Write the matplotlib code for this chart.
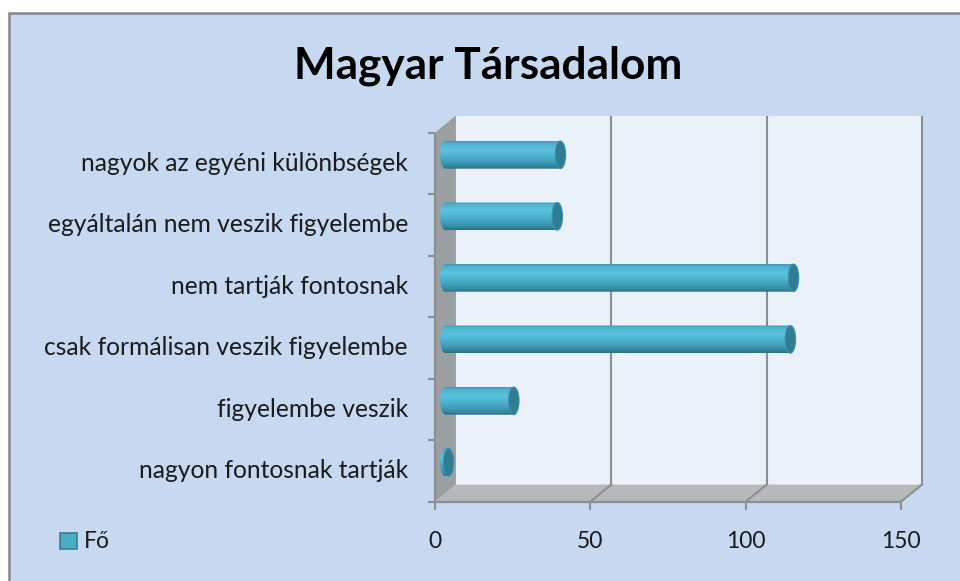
import numpy as np
import matplotlib
matplotlib.use('Agg')
import matplotlib.pyplot as plt
from matplotlib.patches import Polygon, Ellipse, Rectangle
from matplotlib.colors import LinearSegmentedColormap

# ---------------- data ----------------
title = 'Magyar Társadalom'
categories = ['nagyon fontosnak tartják',
              'figyelembe veszik',
              'csak formálisan veszik figyelembe',
              'nem tartják fontosnak',
              'egyáltalán nem veszik figyelembe',
              'nagyok az egyéni különbségek']
values = [1, 22, 111, 112, 36, 37]
xtick_values = [0, 50, 100, 150]
series_name = 'Fő'

# ---------------- figure ----------------
W, H = 960, 581
plt.rcParams['font.family'] = ['Lato', 'DejaVu Sans']
fig = plt.figure(figsize=(W / 100, H / 100), dpi=100, facecolor='white')

bg = Rectangle((9 / W, -0.02), 1.05, (H - 13) / H + 0.02, transform=fig.transFigure,
               facecolor='#C6D9F0', edgecolor='#878787', lw=1.8, zorder=-5)
fig.add_artist(bg)

# axes placed so that data coordinates map linearly onto the plot region
PXU = 3.108      # pixels per value unit
X0 = 445.4       # pixel of value 0 (mid depth plane)
PXC = 61.5       # pixels per category
Y0 = 493.1       # pixel of category edge -0.5 (mid depth plane)
ax_l, ax_r, ax_t, ax_b = 420, 945, 100, 515
ax = fig.add_axes([ax_l / W, (H - ax_b) / H, (ax_r - ax_l) / W, (ax_b - ax_t) / H])
ax.set_facecolor('none')
ax.axis('off')
xlim = ((ax_l - X0) / PXU, (ax_r - X0) / PXU)
ylim = ((Y0 - ax_b) / PXC - 0.5, (Y0 - ax_t) / PXC - 0.5)

dxh = 10.5 / PXU   # half depth offset, value units
dyh = 8.5 / PXC    # half depth offset, category units
vmax = xtick_values[-1]
n = len(categories)
ybot, ytop = -0.5, n - 0.5

grid_c = '#8E8E8E'
# back wall
ax.add_patch(Rectangle((dxh, ybot + dyh), vmax, n, facecolor='#EAF1F9', edgecolor='none', zorder=1))
# side wall
ax.add_patch(Polygon([(-dxh, ybot - dyh), (dxh, ybot + dyh), (dxh, ytop + dyh), (-dxh, ytop - dyh)],
                     closed=True, facecolor='#9C9FA2', edgecolor='none', zorder=2))
# floor
ax.add_patch(Polygon([(-dxh, ybot - dyh), (vmax - dxh, ybot - dyh), (vmax + dxh, ybot + dyh), (dxh, ybot + dyh)],
                     closed=True, facecolor='#B5B9BC', edgecolor='none', zorder=2))
# gridlines on back wall + floor diagonals
for v in xtick_values[1:]:
    ax.plot([v + dxh, v + dxh], [ybot + dyh, ytop + dyh], color=grid_c, lw=1.5, zorder=3,
            solid_capstyle='butt')
    ax.plot([v + dxh, v - dxh], [ybot + dyh, ybot - dyh], color=grid_c, lw=1.5, zorder=3)
# front axis lines
ax.plot([-dxh, vmax - dxh], [ybot - dyh, ybot - dyh], color=grid_c, lw=1.6, zorder=4, solid_capstyle='butt')
ax.plot([-dxh, -dxh], [ybot - dyh, ytop - dyh], color=grid_c, lw=1.6, zorder=4, solid_capstyle='butt')
# tick marks
tl_x = 7 / PXU
for i in range(n + 1):
    yy = ybot + i - dyh
    ax.plot([-dxh - tl_x, -dxh], [yy, yy], color=grid_c, lw=1.5, zorder=4, solid_capstyle='butt')
tl_y = 8 / PXC
for v in xtick_values:
    ax.plot([v - dxh, v - dxh], [ybot - dyh, ybot - dyh - tl_y], color=grid_c, lw=1.5, zorder=4,
            solid_capstyle='butt')

# ---------------- cylinders ----------------
cmap = LinearSegmentedColormap.from_list('cyl', [
    (0.0, '#3C95AF'), (0.08, '#4DB2CE'), (0.3, '#59C3E0'), (0.5, '#4FB6D2'),
    (0.75, '#409DB8'), (0.92, '#33849C'), (1.0, '#2A6C80')])
grad = cmap(np.linspace(0, 1, 128))[:, None, :]
bar_h = 0.45
cap_w = 10.5 / PXU
t = np.linspace(np.pi / 2, 3 * np.pi / 2, 40)
for i, v in enumerate(values):
    yc = i
    # clip outline: left half ellipse + body
    left_pts = [(cap_w / 2 * np.cos(a), yc + bar_h / 2 * np.sin(a)) for a in t]
    pts = [(v, yc + bar_h / 2)] + left_pts + [(v, yc - bar_h / 2)]
    clip = Polygon(pts, closed=True, transform=ax.transData)
    im = ax.imshow(grad, extent=(-cap_w / 2, max(v, 0.01), yc - bar_h / 2, yc + bar_h / 2),
                   aspect='auto', origin='upper', zorder=5, interpolation='bilinear')
    im.set_clip_path(clip)
    ax.add_patch(Ellipse((v, yc), cap_w, bar_h, facecolor='#2F7C93', edgecolor='#3B93AC',
                         lw=0.8, zorder=6))

ax.set_xlim(*xlim)
ax.set_ylim(*ylim)

# ---------------- text ----------------
renderer = fig.canvas.get_renderer()

def fit(txt, target_w):
    w = txt.get_window_extent(renderer).width
    txt.set_fontsize(txt.get_fontsize() * target_w / w)
    return txt.get_fontsize()

text_c = '#1B1B1B'
lab_x = (408 - X0) / PXU
cat_texts = [ax.text(lab_x, i - dyh, c, ha='right', va='center', fontsize=14, color=text_c)
             for i, c in enumerate(categories)]
fs_cat = fit(cat_texts[4], 361)
for tt in cat_texts:
    tt.set_fontsize(fs_cat)

val_y = (Y0 - 541) / PXC - 0.5
val_texts = [ax.text(v - dxh, val_y, str(v), ha='center', va='center', fontsize=14, color=text_c)
             for v in xtick_values]
fs_val = fit(val_texts[-1], 40)
for tt in val_texts:
    tt.set_fontsize(fs_val)

ttl = fig.text(488.4 / W, (H - 78.3) / H, title, ha='center', va='baseline',
               fontsize=30, fontweight='bold', color='black')
fit(ttl, 387)

# legend
fig.add_artist(Rectangle((60 / W, (H - 549) / H), 17 / W, 16 / H, transform=fig.transFigure,
                         facecolor='#4BACC6', edgecolor='#357F93', lw=1.2))
fig.text(84 / W, (H - 541) / H, series_name, ha='left', va='center', fontsize=fs_val, color=text_c)

fig.savefig('out.png', dpi=100, facecolor='white')
